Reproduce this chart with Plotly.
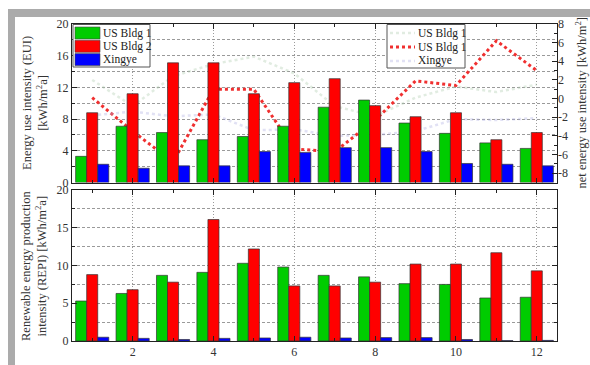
import plotly.graph_objects as go

months = list(range(1, 13))

# Energy use intensity (EUI) [kWh/m2a]
eui_us1 = [3.3, 7.1, 6.3, 5.4, 5.8, 7.1, 9.5, 10.4, 7.5, 6.2, 5.0, 4.3]
eui_us2 = [8.8, 11.2, 15.1, 15.1, 11.2, 12.6, 13.1, 9.7, 8.3, 8.8, 5.4, 6.3]
eui_xy = [2.3, 1.8, 2.1, 2.1, 3.9, 3.8, 4.4, 4.4, 3.9, 2.4, 2.3, 2.1]

# Renewable energy production intensity (REPI) [kWh/m2a]
repi_us1 = [5.3, 6.3, 8.7, 9.1, 10.3, 9.8, 8.7, 8.5, 7.6, 7.5, 5.7, 5.8]
repi_us2 = [8.8, 6.8, 7.8, 16.1, 12.2, 7.3, 7.3, 7.8, 10.2, 10.2, 11.7, 9.3]
repi_xy = [0.5, 0.35, 0.2, 0.35, 0.4, 0.5, 0.4, 0.45, 0.45, 0.2, 0.05, 0.08]

# net energy use intensity [kWh/m2]
net_us1 = [2.0, -0.8, 2.4, 3.7, 4.5, 2.7, -0.8, -1.9, 0.1, 1.3, 0.7, 1.5]
net_us2 = [0.1, -3.5, -6.8, 1.0, 1.0, -5.4, -5.7, -2.3, 1.9, 1.4, 6.2, 3.0]
net_xy = [-1.8, -1.4, -1.9, -1.7, -3.4, -3.3, -4.0, -3.9, -3.5, -2.2, -2.3, -2.1]

bar_names = ["US Bldg 1", "US Bldg 2", "Xingye"]
line_names = ["US Bldg 1", "US Bldg 1", "Xingye"]
right_ticks = [-8, -6, -4, -2, 0, 2, 4, 6, 8]

GREEN = "#00cc00"
RED = "#ff0000"
BLUE = "#0000ff"
FAINT_G = "rgba(175,205,175,0.38)"
FAINT_B = "rgba(175,175,225,0.38)"
NET_RED = "#f03030"
FONT = "Liberation Serif"

# layout geometry (pixels)
W, H = 590, 365
L, R, T, B = 72, 33, 24, 24
PW, PH = W - L - R, H - T - B


def px(x):
    return (x - L) / PW


def py(y):
    return 1 - (y - T) / PH


fig = go.Figure()

# net lines (base subplot, right axis) -> drawn beneath the bars
for vals, col, w in [(net_us1, FAINT_G, 2.5), (net_us2, NET_RED, 3), (net_xy, FAINT_B, 2.5)]:
    fig.add_trace(go.Scatter(x=months, y=vals, mode="lines",
                             line=dict(color=col, width=w, dash="dot"),
                             xaxis="x", yaxis="y", showlegend=False))

bar_line = dict(color="#333333", width=0.7)
for vals, col, n in [(eui_us1, GREEN, bar_names[0]), (eui_us2, RED, bar_names[1]), (eui_xy, BLUE, bar_names[2])]:
    fig.add_trace(go.Bar(x=months, y=vals, name=n, marker=dict(color=col, line=bar_line),
                         xaxis="x", yaxis="y3", showlegend=False))
for vals, col, n in [(repi_us1, GREEN, bar_names[0]), (repi_us2, RED, bar_names[1]), (repi_xy, BLUE, bar_names[2])]:
    fig.add_trace(go.Bar(x=months, y=vals, name=n, marker=dict(color=col, line=bar_line),
                         xaxis="x2", yaxis="y2", showlegend=False))

grid = "#9a9a9a"
hdash = "3px,2px"
vdash = "1px,2px"
tickfont = dict(family=FONT, size=12, color="#333")
titlefont = dict(family=FONT, size=12.5, color="#333")

common_x = dict(range=[0.5, 12.5], tick0=0, dtick=2, showline=True, linecolor="#222",
                linewidth=1, mirror="ticks", ticks="inside", ticklen=5, tickcolor="#222",
                showgrid=True, gridcolor=grid, griddash=vdash, gridwidth=1,
                minor=dict(dtick=1, ticks="inside", ticklen=3, tickcolor="#222", showgrid=False),
                zeroline=False, tickfont=tickfont, automargin=False)

shapes = [
    dict(type="rect", xref="paper", yref="paper", x0=px(8), x1=px(592),
         y0=py(17), y1=py(9), fillcolor="#ababab", line=dict(width=0), layer="below"),
    dict(type="rect", xref="paper", yref="paper", x0=px(8), x1=px(15),
         y0=py(367), y1=py(9), fillcolor="#ababab", line=dict(width=0), layer="below"),
]
annotations = []

# legend 1 (bars)
shapes.append(dict(type="rect", xref="paper", yref="paper", x0=px(73), x1=px(150),
                   y0=py(67), y1=py(24.5), fillcolor="white",
                   line=dict(color="#555", width=1), layer="above"))
for i, (n, col) in enumerate(zip(bar_names, [GREEN, RED, BLUE])):
    y0 = 27 + i * 13.3
    shapes.append(dict(type="rect", xref="paper", yref="paper", x0=px(75), x1=px(100),
                       y0=py(y0 + 12), y1=py(y0), fillcolor=col,
                       line=dict(color="#444", width=0.6), layer="above"))
    annotations.append(dict(xref="paper", yref="paper", x=px(101), y=py(y0 + 6),
                            text=n, showarrow=False, xanchor="left", yanchor="middle",
                            font=dict(family=FONT, size=11.5, color="#222")))

# legend 2 (net lines)
shapes.append(dict(type="rect", xref="paper", yref="paper", x0=px(387), x1=px(465),
                   y0=py(68), y1=py(24.5), fillcolor="white",
                   line=dict(color="#555", width=1), layer="above"))
for i, (n, col, w) in enumerate(zip(line_names, [FAINT_G, NET_RED, FAINT_B], [2.5, 3, 2.5])):
    yc = 33 + i * 14
    shapes.append(dict(type="line", xref="paper", yref="paper", x0=px(390), x1=px(415),
                       y0=py(yc), y1=py(yc), line=dict(color=col, width=w, dash="dot"),
                       layer="above"))
    annotations.append(dict(xref="paper", yref="paper", x=px(416), y=py(yc),
                            text=n, showarrow=False, xanchor="left", yanchor="middle",
                            font=dict(family=FONT, size=11.5, color="#222")))

# axis titles
annotations += [
    dict(xref="paper", yref="paper", x=px(34.5), y=py(103.5), textangle=-90,
         text="Energy use intensity (EUI)<br>[kWh/m<sup>2</sup>a]", showarrow=False,
         xanchor="center", yanchor="middle", font=titlefont),
    dict(xref="paper", yref="paper", x=px(34), y=py(266), textangle=-90,
         text="Renewable energy production<br>intensity (REPI) [kWh/m<sup>2</sup>a]", showarrow=False,
         xanchor="center", yanchor="middle", font=titlefont),
    dict(xref="paper", yref="paper", x=px(580), y=py(103.5), textangle=-90,
         text="net energy use intensity [kWh/m<sup>2</sup>]", showarrow=False,
         xanchor="center", yanchor="middle", font=titlefont),
]

fig.update_layout(
    width=W, height=H,
    margin=dict(l=L, r=R, t=T, b=B),
    paper_bgcolor="white", plot_bgcolor="white",
    barmode="group", bargap=0.18, bargroupgap=0,
    font=dict(family=FONT, size=12, color="#333"),
    showlegend=False,
    xaxis=dict(domain=[0, 1], anchor="y", showticklabels=False, **common_x),
    xaxis2=dict(domain=[0, 1], anchor="y2", matches="x", showticklabels=True, **common_x),
    yaxis=dict(domain=[0.5, 1], anchor="x", side="right", range=[-9, 8],
               tickvals=right_ticks, ticktext=[str(v) for v in right_ticks],
               showgrid=False, zeroline=False, showline=False,
               ticks="inside", ticklen=5, tickcolor="#222",
               minor=dict(dtick=1, ticks="inside", ticklen=3, tickcolor="#222"),
               tickfont=tickfont, automargin=False),
    yaxis3=dict(domain=[0.5, 1], anchor="x", overlaying="y", side="left",
                range=[0, 20], dtick=4, tick0=0,
                showline=True, linecolor="#222", linewidth=1, mirror=True,
                ticks="inside", ticklen=5, tickcolor="#222",
                showgrid=True, gridcolor=grid, griddash=hdash, gridwidth=1,
                minor=dict(dtick=2, ticks="inside", ticklen=3, tickcolor="#222",
                           showgrid=True, gridcolor=grid, griddash=hdash, gridwidth=1),
                zeroline=False, tickfont=tickfont, automargin=False),
    yaxis2=dict(domain=[0, 0.476], anchor="x2", range=[0, 20], dtick=5, tick0=0,
                showline=True, linecolor="#222", linewidth=1, mirror="ticks",
                ticks="inside", ticklen=5, tickcolor="#222",
                showgrid=True, gridcolor=grid, griddash=hdash, gridwidth=1,
                minor=dict(dtick=2.5, ticks="inside", ticklen=3, tickcolor="#222",
                           showgrid=True, gridcolor=grid, griddash=hdash, gridwidth=1),
                zeroline=False, tickfont=tickfont, automargin=False),
    shapes=shapes,
    annotations=annotations,
)

fig.write_html("out.html", config={"displayModeBar": False},
               post_script="document.body.style.margin='0';")
